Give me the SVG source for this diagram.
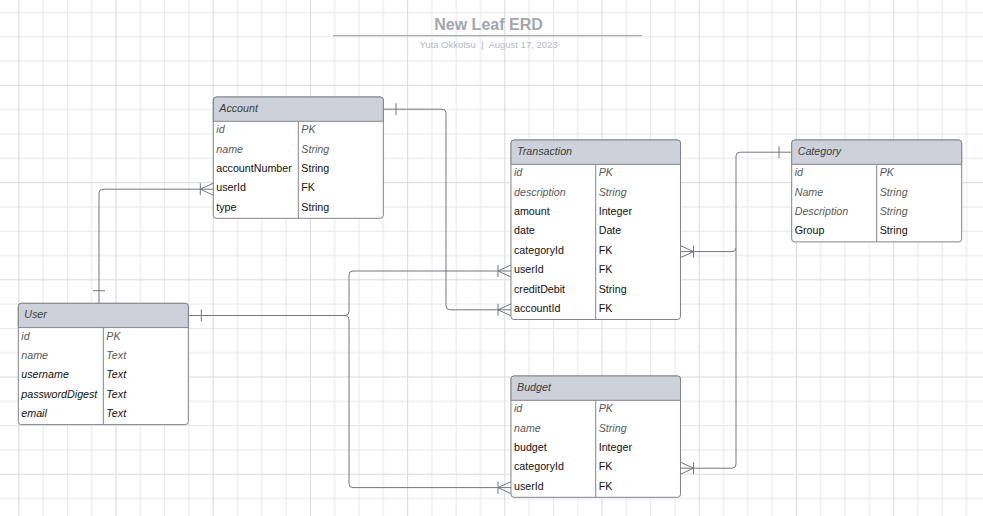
<svg xmlns="http://www.w3.org/2000/svg" width="983" height="516" viewBox="0 0 983 516">
<style>
text{font-family:"Liberation Sans",Arial,sans-serif;font-size:10.7px}
.ttl{font-size:16px;font-weight:bold;fill:#a1a6b0;text-anchor:middle}
.sub{font-size:9.5px;fill:#b5b9c1;text-anchor:middle;white-space:pre}
.box{fill:#ffffff;stroke:#80858d;stroke-width:1}
.hd{fill:#cdd2da;stroke:#80858d;stroke-width:1}
.dv{stroke:#80858d;stroke-width:1;fill:none}
.ht{font-style:italic;fill:#3c3c3c}
.it{font-style:italic;fill:#5a5a5a}
.ib{font-style:italic;fill:#111}
.n{fill:#111}
.c{fill:none;stroke:#73777e;stroke-width:1}
</style>
<defs>
<pattern id="grid" patternUnits="userSpaceOnUse" x="18.3" y="84.9" width="97.2" height="97.2">
<rect x="0" y="0" width="97.2" height="97.2" fill="#ffffff"/>
<g fill="#e8e8e8">
<rect x="24.3" y="0" width="1" height="97.2"/>
<rect x="48.6" y="0" width="1" height="97.2"/>
<rect x="72.9" y="0" width="1" height="97.2"/>
<rect x="0" y="24.3" width="97.2" height="1"/>
<rect x="0" y="48.6" width="97.2" height="1"/>
<rect x="0" y="72.9" width="97.2" height="1"/>
</g>
<g fill="#dadada">
<rect x="0" y="0" width="1" height="97.2"/>
<rect x="0" y="0" width="97.2" height="1"/>
</g>
</pattern>
</defs>
<rect x="0" y="0" width="983" height="516" fill="url(#grid)"/>

<g id="title">
<text class="ttl" x="488.5" y="30">New Leaf ERD</text>
<line x1="333" y1="35.7" x2="642" y2="35.7" stroke="#a8adb5" stroke-width="1.2"/>
<text class="sub" x="488.5" y="48">Yuta Okkotsu  |  August 17, 2023</text>
</g>

<g id="connectors">
<!-- Account -> Transaction.accountId -->
<path class="c" d="M383.3,109.2 H442 Q446,109.2 446,113.2 V305.8 Q446,309.8 450,309.8 H511"/>
<path class="c" d="M396,103.2 V115.2"/>
<path class="c" d="M498,303.8 V315.8 M511,303.8 L498,309.8 L511,315.8"/>
<!-- User -> Account.userId -->
<path class="c" d="M99,303.3 V193.2 Q99,189.2 103,189.2 H213.3"/>
<path class="c" d="M93,290.7 H105"/>
<path class="c" d="M200.3,183.2 V195.2 M213.3,183.2 L200.3,189.2 L213.3,195.2"/>
<!-- User -> Transaction.userId -->
<path class="c" d="M188.3,315.5 H345 Q349,315.5 349,311.5 V275 Q349,271 353,271 H511"/>
<path class="c" d="M201.3,309.5 V321.5"/>
<path class="c" d="M498,265 V277 M511,265 L498,271 L511,277"/>
<!-- User -> Budget.userId -->
<path class="c" d="M188.3,315.5 H345 Q349,315.5 349,319.5 V483.6 Q349,487.6 353,487.6 H511"/>
<path class="c" d="M498,481.6 V493.6 M511,481.6 L498,487.6 L511,493.6"/>
<!-- Category -> Transaction.categoryId -->
<path class="c" d="M791.7,152.2 H740 Q736,152.2 736,156.2 V247.6 Q736,251.6 732,251.6 H680.5"/>
<path class="c" d="M779,146.2 V158.2"/>
<path class="c" d="M693.5,245.6 V257.6 M680.5,245.6 L693.5,251.6 L680.5,257.6"/>
<!-- Category -> Budget.categoryId -->
<path class="c" d="M736,247.6 V464.2 Q736,468.2 732,468.2 H680.5"/>
<path class="c" d="M693.5,462.2 V474.2 M680.5,462.2 L693.5,468.2 L680.5,474.2"/>
</g>

<g id="account">
<rect class="box" x="213.3" y="97" width="170" height="121.3" rx="3"/>
<path class="hd" d="M213.3,121.3 V100 Q213.3,97 216.3,97 H380.3 Q383.3,97 383.3,100 V121.3 Z"/>
<path class="dv" d="M298.3,121.3 V218.3"/>
<text class="ht" x="219.3" y="112">Account</text>
<text class="it" x="216.3" y="133.2">id</text><text class="it" x="301.3" y="133.2">PK</text>
<text class="it" x="216.3" y="152.6">name</text><text class="it" x="301.3" y="152.6">String</text>
<text class="n" x="216.3" y="172">accountNumber</text><text class="n" x="301.3" y="172">String</text>
<text class="n" x="216.3" y="191.4">userId</text><text class="n" x="301.3" y="191.4">FK</text>
<text class="n" x="216.3" y="210.8">type</text><text class="n" x="301.3" y="210.8">String</text>
</g>

<g id="transaction">
<rect class="box" x="511" y="140" width="169.5" height="179.5" rx="3"/>
<path class="hd" d="M511,164.3 V143 Q511,140 514,140 H677.5 Q680.5,140 680.5,143 V164.3 Z"/>
<path class="dv" d="M595.7,164.3 V319.5"/>
<text class="ht" x="517" y="155">Transaction</text>
<text class="it" x="514" y="176.2">id</text><text class="it" x="598.7" y="176.2">PK</text>
<text class="it" x="514" y="195.6">description</text><text class="it" x="598.7" y="195.6">String</text>
<text class="n" x="514" y="215">amount</text><text class="n" x="598.7" y="215">Integer</text>
<text class="n" x="514" y="234.4">date</text><text class="n" x="598.7" y="234.4">Date</text>
<text class="n" x="514" y="253.8">categoryId</text><text class="n" x="598.7" y="253.8">FK</text>
<text class="n" x="514" y="273.2">userId</text><text class="n" x="598.7" y="273.2">FK</text>
<text class="n" x="514" y="292.6">creditDebit</text><text class="n" x="598.7" y="292.6">String</text>
<text class="n" x="514" y="312">accountId</text><text class="n" x="598.7" y="312">FK</text>
</g>

<g id="category">
<rect class="box" x="791.7" y="140" width="170" height="101.9" rx="3"/>
<path class="hd" d="M791.7,164.3 V143 Q791.7,140 794.7,140 H958.7 Q961.7,140 961.7,143 V164.3 Z"/>
<path class="dv" d="M876.7,164.3 V241.9"/>
<text class="ht" x="797.7" y="155">Category</text>
<text class="it" x="794.7" y="176.2">id</text><text class="it" x="879.7" y="176.2">PK</text>
<text class="it" x="794.7" y="195.6">Name</text><text class="it" x="879.7" y="195.6">String</text>
<text class="it" x="794.7" y="215">Description</text><text class="it" x="879.7" y="215">String</text>
<text class="n" x="794.7" y="234.4">Group</text><text class="n" x="879.7" y="234.4">String</text>
</g>

<g id="user">
<rect class="box" x="18.3" y="303.3" width="170" height="121.3" rx="3"/>
<path class="hd" d="M18.3,327.6 V306.3 Q18.3,303.3 21.3,303.3 H185.3 Q188.3,303.3 188.3,306.3 V327.6 Z"/>
<path class="dv" d="M103.3,327.6 V424.6"/>
<text class="ht" x="24.3" y="318.3">User</text>
<text class="it" x="21.3" y="339.5">id</text><text class="it" x="106.3" y="339.5">PK</text>
<text class="it" x="21.3" y="358.9">name</text><text class="it" x="106.3" y="358.9">Text</text>
<text class="ib" x="21.3" y="378.3">username</text><text class="ib" x="106.3" y="378.3">Text</text>
<text class="ib" x="21.3" y="397.7">passwordDigest</text><text class="ib" x="106.3" y="397.7">Text</text>
<text class="ib" x="21.3" y="417.1">email</text><text class="ib" x="106.3" y="417.1">Text</text>
</g>

<g id="budget">
<rect class="box" x="511" y="376" width="169.5" height="121.3" rx="3"/>
<path class="hd" d="M511,400.3 V379 Q511,376 514,376 H677.5 Q680.5,376 680.5,379 V400.3 Z"/>
<path class="dv" d="M595.7,400.3 V497.3"/>
<text class="ht" x="517" y="391">Budget</text>
<text class="it" x="514" y="412.2">id</text><text class="it" x="598.7" y="412.2">PK</text>
<text class="it" x="514" y="431.6">name</text><text class="it" x="598.7" y="431.6">String</text>
<text class="n" x="514" y="451">budget</text><text class="n" x="598.7" y="451">Integer</text>
<text class="n" x="514" y="470.4">categoryId</text><text class="n" x="598.7" y="470.4">FK</text>
<text class="n" x="514" y="489.8">userId</text><text class="n" x="598.7" y="489.8">FK</text>
</g>
</svg>
